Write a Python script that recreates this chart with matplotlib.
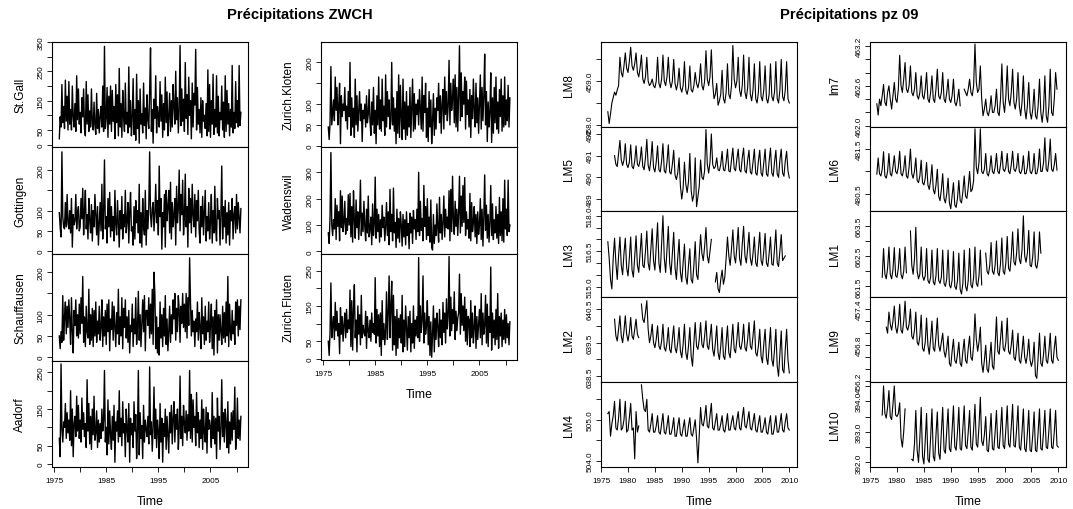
import numpy as np
import matplotlib
matplotlib.use("Agg")
import matplotlib.pyplot as plt

plt.rcParams['font.family'] = ['Liberation Sans', 'DejaVu Sans']

nan = np.nan

rain_start, rain_freq = 1976.0, 6

st_gall = [
    20, 95, 60, 205, 75, 130,
    55, 220, 80, 165, 50, 215,
    70, 120, 50, 200, 95, 60,
    140, 45, 235, 85, 190, 70,
    110, 40, 160, 95, 190, 55,
    30, 215, 70, 170, 45, 115,
    60, 190, 75, 50, 145, 65,
    35, 175, 55, 120, 40, 95,
    130, 60, 200, 45, 335, 55,
    90, 195, 25, 165, 70, 200,
    45, 185, 80, 130, 20, 205,
    75, 170, 30, 260, 60, 140,
    25, 185, 95, 45, 210, 70,
    110, 40, 265, 60, 150, 30,
    95, 225, 35, 120, 15, 240,
    55, 150, 5, 190, 70, 105,
    40, 210, 65, 125, 20, 170,
    85, 55, 180, 330, 45, 120,
    5, 155, 90, 235, 40, 130,
    100, 60, 215, 80, 170, 25,
    140, 50, 230, 75, 180, 30,
    95, 175, 45, 150, 60, 205,
    130, 70, 250, 85, 160, 40,
    120, 338, 65, 190, 80, 155,
    45, 280, 90, 170, 35, 230,
    100, 150, 20, 210, 60, 175,
    135, 325, 50, 195, 70, 120,
    40, 160, 25, 150, 80, 100,
    55, 140, 30, 255, 45, 205,
    25, 150, 70, 240, 35, 120,
    60, 235, 40, 165, 30, 110,
    85, 200, 50, 145, 25, 235,
    45, 185, 70, 140, 30, 120,
    60, 270, 40, 110, 55, 215,
    75, 150, 60, 270, 65, 110,
]

gottingen = [
    95, 60, 35, 245, 85, 60,
    55, 120, 60, 140, 70, 55,
    100, 45, 130, 10, 90, 65,
    75, 140, 55, 95, 110, 50,
    60, 130, 80, 155, 40, 100,
    150, 55, 90, 30, 130, 75,
    45, 115, 25, 100, 60, 140,
    90, 40, 110, 15, 70, 120,
    50, 165, 30, 95, 225, 55,
    85, 20, 130, 60, 145, 35,
    110, 50, 85, 25, 150, 65,
    40, 125, 70, 10, 100, 55,
    135, 30, 90, 60, 150, 45,
    75, 120, 20, 95, 145, 50,
    60, 15, 110, 30, 125, 70,
    100, 45, 165, 20, 95, 10,
    130, 60, 40, 150, 15, 100,
    55, 110, 245, 90, 60, 105,
    120, 50, 95, 165, 70, 125,
    40, 210, 85, 130, 5, 95,
    60, 140, 10, 150, 75, 110,
    150, 45, 170, 30, 120, 60,
    90, 130, 15, 160, 70, 105,
    200, 50, 140, 90, 175, 40,
    85, 190, 60, 110, 10, 155,
    70, 130, 45, 165, 90, 60,
    140, 35, 125, 75, 150, 50,
    20, 110, 60, 135, 40, 95,
    150, 25, 85, 50, 120, 30,
    70, 140, 20, 100, 45, 160,
    55, 25, 130, 80, 100, 15,
    90, 210, 30, 110, 60, 125,
    20, 95, 40, 120, 15, 100,
    75, 130, 30, 90, 110, 45,
    140, 55, 120, 80, 45, 105,
]

schauffausen = [
    50, 20, 60, 35, 145, 40,
    95, 130, 55, 120, 70, 135,
    90, 30, 140, 60, 10, 110,
    75, 135, 50, 100, 45, 125,
    55, 140, 80, 190, 35, 95,
    25, 120, 60, 45, 160, 30,
    100, 40, 115, 25, 110, 50,
    130, 35, 85, 55, 120, 40,
    70, 135, 25, 95, 50, 110,
    30, 125, 60, 135, 15, 90,
    65, 130, 40, 120, 70, 25,
    105, 55, 160, 30, 95, 50,
    140, 20, 115, 70, 135, 45,
    95, 35, 110, 10, 75, 60,
    125, 25, 90, 55, 140, 30,
    70, 155, 40, 100, 25, 80,
    135, 60, 145, 15, 110, 110,
    75, 140, 45, 125, 55, 160,
    30, 200, 150, 20, 95, 10,
    70, 5, 130, 45, 100, 25,
    115, 50, 145, 30, 90, 15,
    60, 120, 35, 100, 55, 135,
    90, 150, 40, 115, 60, 145,
    110, 35, 120, 80, 150, 70,
    125, 60, 150, 45, 140, 75,
    234, 130, 50, 110, 60, 85,
    25, 90, 60, 130, 40, 105,
    70, 20, 140, 55, 95, 30,
    120, 40, 85, 60, 130, 35,
    75, 125, 20, 95, 5, 110,
    55, 135, 10, 100, 40, 100,
    60, 30, 120, 45, 105, 35,
    130, 50, 190, 25, 125, 60,
    40, 110, 55, 85, 30, 130,
    75, 135, 50, 120, 65, 135,
]

aadorf = [
    70, 20, 273, 95, 60, 115,
    100, 165, 70, 140, 85, 120,
    65, 200, 50, 150, 20, 110,
    130, 75, 185, 90, 160, 70,
    120, 60, 180, 95, 140, 75,
    110, 45, 230, 90, 165, 55,
    130, 40, 150, 80, 185, 65,
    85, 145, 45, 120, 60, 110,
    70, 150, 90, 120, 255, 60,
    100, 25, 175, 55, 145, 80,
    40, 130, 65, 160, 5, 115,
    90, 145, 60, 200, 75, 125,
    50, 170, 85, 110, 20, 150,
    95, 60, 165, 5, 125, 80,
    110, 45, 170, 90, 135, 15,
    85, 255, 25, 140, 70, 105,
    15, 160, 60, 120, 95, 75,
    130, 55, 265, 80, 115, 35,
    100, 210, 70, 150, 45, 120,
    90, 15, 165, 60, 125, 5,
    110, 75, 150, 40, 130, 80,
    30, 140, 85, 160, 55, 125,
    170, 60, 135, 95, 150, 40,
    95, 240, 70, 130, 50, 160,
    110, 85, 145, 65, 135, 90,
    255, 70, 190, 60, 175, 100,
    130, 50, 195, 85, 140, 45,
    120, 70, 175, 40, 150, 85,
    60, 155, 30, 140, 95, 120,
    100, 45, 195, 70, 130, 55,
    125, 15, 180, 90, 130, 40,
    95, 230, 75, 140, 60, 150,
    110, 45, 170, 30, 115, 55,
    140, 65, 145, 95, 210, 40,
    75, 180, 70, 120, 65, 130,
]

zurich_kloten = [
    45, 15, 55, 190, 50, 80,
    110, 60, 165, 85, 140, 50,
    95, 150, 5, 120, 70, 100,
    85, 140, 60, 95, 40, 130,
    70, 200, 25, 115, 45, 90,
    20, 160, 50, 120, 35, 80,
    130, 60, 100, 10, 85, 65,
    100, 45, 120, 55, 75, 135,
    60, 25, 105, 50, 140, 30,
    85, 5, 120, 50, 165, 40,
    110, 35, 160, 60, 95, 25,
    170, 45, 130, 70, 110, 40,
    60, 200, 50, 115, 35, 90,
    5, 130, 30, 170, 20, 145,
    70, 15, 160, 40, 105, 15,
    130, 25, 95, 45, 140, 20,
    90, 160, 35, 125, 40, 100,
    75, 110, 50, 135, 90, 40,
    165, 35, 120, 80, 150, 20,
    90, 10, 130, 45, 110, 5,
    60, 125, 25, 90, 40, 115,
    85, 150, 55, 120, 30, 100,
    135, 40, 165, 75, 130, 60,
    95, 205, 50, 150, 85, 115,
    160, 55, 170, 45, 140, 35,
    120, 240, 60, 175, 70, 130,
    100, 165, 40, 155, 75, 110,
    45, 135, 20, 120, 65, 160,
    85, 45, 150, 55, 115, 30,
    100, 170, 40, 140, 60, 120,
    220, 50, 130, 10, 105, 45,
    80, 175, 8, 115, 30, 140,
    55, 165, 40, 105, 30, 135,
    70, 160, 35, 120, 45, 165,
    50, 110, 60, 145, 45, 115,
]

wadenswil = [
    70, 30, 130, 375, 100, 60,
    120, 85, 200, 45, 175, 95,
    150, 40, 230, 90, 210, 75,
    110, 190, 65, 125, 80, 215,
    100, 220, 55, 170, 35, 230,
    120, 50, 195, 90, 150, 45,
    130, 270, 60, 145, 75, 190,
    95, 40, 160, 70, 210, 55,
    85, 130, 25, 180, 60, 110,
    282, 50, 160, 75, 140, 35,
    120, 55, 175, 90, 130, 40,
    95, 185, 60, 150, 25, 235,
    75, 140, 40, 240, 70, 110,
    15, 160, 50, 125, 35, 150,
    100, 20, 140, 55, 120, 25,
    150, 60, 105, 10, 145, 70,
    130, 30, 155, 85, 120, 45,
    160, 75, 300, 60, 190, 80,
    125, 40, 250, 95, 170, 45,
    200, 60, 130, 35, 195, 15,
    5, 140, 30, 100, 60, 180,
    90, 35, 205, 70, 140, 45,
    110, 210, 55, 160, 90, 130,
    85, 230, 40, 235, 75, 285,
    120, 65, 190, 95, 160, 60,
    145, 285, 70, 210, 95, 250,
    110, 280, 60, 150, 85, 120,
    50, 220, 40, 185, 75, 110,
    170, 55, 140, 30, 150, 65,
    100, 200, 45, 160, 20, 130,
    290, 80, 175, 50, 140, 35,
    110, 250, 60, 180, 45, 120,
    70, 170, 50, 140, 30, 205,
    60, 150, 40, 200, 35, 270,
    85, 160, 60, 270, 75, 100,
]

zurich_fluten = [
    50, 10, 75, 215, 60, 95,
    120, 55, 160, 80, 135, 65,
    100, 15, 145, 70, 120, 50,
    95, 130, 60, 140, 75, 110,
    85, 195, 35, 165, 25, 140,
    210, 60, 110, 20, 150, 70,
    125, 40, 180, 60, 95, 75,
    65, 135, 30, 120, 80, 60,
    110, 50, 130, 75, 100, 70,
    230, 45, 140, 65, 125, 35,
    130, 10, 165, 55, 100, 40,
    80, 190, 55, 130, 235, 60,
    150, 220, 25, 180, 40, 120,
    10, 140, 30, 115, 60, 125,
    45, 180, 20, 110, 35, 150,
    90, 25, 120, 60, 135, 20,
    100, 45, 150, 30, 110, 65,
    120, 60, 287, 50, 150, 75,
    110, 235, 45, 130, 70, 95,
    165, 40, 120, 10, 105, 5,
    70, 150, 20, 115, 55, 130,
    90, 35, 140, 60, 110, 40,
    160, 75, 130, 45, 170, 85,
    120, 290, 65, 175, 80, 140,
    100, 190, 55, 135, 80, 115,
    130, 240, 70, 185, 95, 150,
    80, 175, 50, 140, 40, 120,
    110, 35, 165, 60, 130, 45,
    90, 150, 30, 120, 55, 100,
    140, 60, 185, 40, 130, 70,
    95, 180, 45, 155, 35, 120,
    75, 260, 25, 130, 60, 110,
    40, 140, 55, 185, 30, 120,
    65, 130, 35, 110, 55, 140,
    45, 125, 60, 100, 40, 105,
]

lake_start, lake_freq = 1976.25, 4

lm8 = [
    458.30, 458.03, 458.25, 458.50,
    458.62, 458.75, 458.68, 458.80,
    458.90, 459.55, 459.20, 459.10,
    459.35, 459.65, 459.30, 459.20,
    459.45, 459.78, 459.35, 459.25,
    459.40, 459.65, 459.20, 459.10,
    459.30, 459.60, 459.05, 458.95,
    459.10, 459.55, 459.00, 458.90,
    458.95, 459.05, 458.90, 458.85,
    459.00, 459.55, 458.95, 458.85,
    459.05, 459.60, 459.00, 458.90,
    459.10, 459.55, 459.00, 458.85,
    459.00, 459.50, 458.95, 458.80,
    458.95, 459.30, 458.85, 458.75,
    458.90, 459.45, 458.80, 458.70,
    458.85, 459.35, 458.80, 458.75,
    458.90, 459.20, 458.95, 458.85,
    459.00, 459.40, 458.90, 458.80,
    459.00, 459.70, 459.05, 458.90,
    459.10, 459.72, 458.95, 458.60,
    458.70, 458.95, 458.45, 458.55,
    458.70, 459.25, 458.60, 458.50,
    458.75, 459.40, 458.70, 458.60,
    458.90, 459.82, 459.05, 458.85,
    459.00, 459.55, 458.80, 458.65,
    458.90, 459.60, 458.75, 458.60,
    458.85, 459.55, 458.70, 458.55,
    458.80, 459.40, 458.60, 458.50,
    458.75, 459.45, 458.65, 458.55,
    458.80, 459.35, 458.60, 458.50,
    458.70, 459.40, 458.65, 458.55,
    458.75, 459.45, 458.60, 458.50,
    458.80, 459.50, 458.65, 458.55,
    458.80, 459.45, 458.60, 458.50,
]

lm5 = [
    nan, nan, nan, nan,
    nan, 491.00, 490.60, 490.50,
    491.10, 491.70, 490.80, 490.55,
    490.80, 491.55, 490.60, 490.45,
    490.70, 491.50, 490.50, 490.40,
    490.75, 491.45, 490.60, 490.50,
    490.80, 491.40, 490.50, 490.35,
    490.90, 491.75, 490.55, 490.30,
    490.80, 491.65, 490.45, 490.25,
    490.70, 491.45, 490.35, 490.25,
    490.75, 491.55, 490.30, 490.20,
    490.70, 491.50, 490.25, 490.15,
    490.60, 491.25, 490.10, 489.90,
    490.20, 490.90, 489.60, 489.00,
    489.50, 490.70, 489.70, 489.30,
    489.80, 491.10, 489.40, 488.90,
    489.20, 490.90, 488.65, 489.10,
    489.60, 490.80, 490.00, 489.90,
    490.30, 492.20, 490.60, 490.20,
    490.70, 492.00, 490.60, 490.40,
    490.50, 490.90, 490.35, 490.30,
    490.60, 491.20, 490.35, 490.30,
    490.70, 491.30, 490.30, 490.25,
    490.80, 491.35, 490.40, 490.30,
    490.85, 491.30, 490.35, 490.25,
    490.90, 491.35, 490.30, 490.20,
    490.80, 491.25, 490.25, 490.15,
    490.70, 491.30, 490.20, 490.10,
    490.75, 491.25, 490.20, 490.05,
    490.70, 491.30, 490.15, 490.05,
    490.75, 491.35, 490.20, 490.05,
    490.70, 491.25, 490.15, 490.00,
    490.80, 491.30, 490.20, 490.05,
    490.75, 491.20, 490.30, 489.97,
]

lm3 = [
    516.90, 516.20, 515.30, 514.90,
    516.20, 517.05, 516.00, 515.30,
    516.30, 517.10, 515.90, 515.50,
    516.40, 517.05, 515.80, 515.45,
    516.20, 517.10, 515.70, 515.40,
    516.30, 517.15, 515.90, 515.60,
    516.40, 517.25, 515.90, 515.80,
    516.50, 517.35, 516.00, 515.70,
    516.60, 517.45, 516.10, 515.70,
    516.70, 517.70, 516.00, 515.60,
    516.80, 518.00, 516.20, 515.60,
    516.60, 517.55, 516.00, 515.50,
    516.40, 517.30, 515.80, 515.30,
    516.20, 517.00, 515.60, 515.20,
    516.00, 516.80, 515.40, 515.10,
    515.90, 516.60, 515.30, 515.15,
    515.90, 516.90, 515.50, 515.30,
    516.30, 517.20, 516.40, 516.10,
    516.70, 517.50, 516.30, 516.00,
    516.50, 517.00, nan, nan,
    515.20, 515.60, 514.90, 514.75,
    515.30, 515.70, 515.10, 515.40,
    516.20, 517.10, 516.30, 515.90,
    516.60, 517.40, 516.30, 516.00,
    516.70, 517.50, 516.20, 515.90,
    516.80, 517.55, 516.30, 516.00,
    516.60, 517.30, 516.20, 515.90,
    516.40, 517.10, 516.00, 515.85,
    516.60, 517.30, 516.10, 515.90,
    516.50, 517.25, 516.00, 515.85,
    516.40, 517.10, 515.95, 515.90,
    516.60, 517.40, 516.00, 515.85,
    516.50, 517.20, 516.10, 516.20,
    516.30, nan, nan, nan,
]

lm2 = [
    nan, nan, nan, nan,
    nan, 640.20, 639.70, 639.55,
    639.90, 640.30, 639.70, 639.50,
    639.85, 640.30, 639.75, 639.55,
    639.80, 640.25, 639.70, 639.60,
    639.90, 640.20, 639.75, 639.65,
    nan, 640.65, 640.20, 640.10,
    640.40, 640.75, 639.90, 639.50,
    639.70, 640.05, 639.50, 639.35,
    639.60, 640.00, 639.40, 639.30,
    639.55, 640.05, 639.35, 639.25,
    639.50, 639.95, 639.30, 639.20,
    639.60, 640.00, 639.35, 639.20,
    639.50, 639.95, 639.25, 639.05,
    639.45, 640.05, 639.20, 639.00,
    639.40, 639.95, 639.10, 638.80,
    639.50, 640.10, 639.40, 639.30,
    639.60, 640.10, 639.45, 639.35,
    639.70, 640.15, 639.40, 639.30,
    639.65, 640.05, 639.30, 639.10,
    639.50, 640.00, 639.20, 639.00,
    639.40, 639.95, 639.10, 639.00,
    639.50, 640.00, 639.20, 639.05,
    639.55, 640.05, 639.30, 639.20,
    639.60, 640.10, 639.40, 639.30,
    639.55, 640.05, 639.35, 639.25,
    639.60, 640.10, 639.40, 639.30,
    639.70, 640.15, 639.20, 639.10,
    639.40, 639.90, 639.10, 638.90,
    639.45, 639.90, 639.05, 638.85,
    639.40, 639.95, 639.00, 638.80,
    639.30, 639.90, 638.80, 638.50,
    639.20, 639.85, 638.70, 638.60,
    639.30, 639.90, 639.00, 638.60,
]

lm4 = [
    505.15, 505.20, 504.60, 504.90,
    505.10, 505.45, 504.80, 504.75,
    505.05, 505.50, 504.75, 504.80,
    505.00, 505.45, 504.70, 504.75,
    505.05, 505.40, 504.75, 504.80,
    504.05, 505.20, 504.70, 504.85,
    nan, 505.85, 505.50, 505.25,
    505.20, 505.50, 504.75, 504.70,
    504.90, 505.15, 504.70, 504.70,
    504.85, 505.10, 504.70, 504.65,
    504.90, 505.15, 504.70, 504.65,
    504.85, 505.10, 504.65, 504.65,
    504.80, 505.05, 504.60, 504.60,
    504.85, 505.05, 504.65, 504.60,
    504.80, 505.00, 504.60, 504.60,
    504.85, 505.05, 504.65, 504.60,
    504.80, 505.00, 504.55, 503.95,
    504.60, 505.30, 504.90, 504.85,
    505.05, 505.35, 504.85, 504.80,
    505.10, 505.40, 504.80, 504.75,
    504.95, 505.15, 504.75, 504.75,
    504.90, 505.10, 504.75, 504.70,
    504.90, 505.15, 504.75, 504.75,
    504.95, 505.10, 504.80, 504.75,
    505.00, 505.20, 504.80, 504.75,
    505.05, 505.30, 504.85, 504.80,
    505.00, 505.20, 504.80, 504.75,
    504.95, 505.15, 504.75, 504.70,
    504.90, 505.10, 504.70, 504.70,
    504.85, 505.05, 504.70, 504.65,
    504.90, 505.10, 504.65, 504.65,
    504.85, 505.10, 504.70, 504.70,
    504.90, 505.15, 504.75, 504.70,
    504.95, 505.15, 504.80, 504.75,
]

lm7 = [
    462.33, 462.16, 462.40, 462.30,
    462.45, 462.62, 462.35, 462.30,
    462.50, 462.60, 462.40, 462.25,
    462.45, 462.65, 462.40, 462.35,
    462.55, 463.06, 462.60, 462.50,
    462.70, 462.95, 462.55, 462.50,
    462.60, 462.90, 462.50, 462.45,
    462.55, 462.80, 462.45, 462.40,
    462.50, 462.75, 462.45, 462.40,
    462.55, 462.80, 462.40, 462.35,
    462.50, 462.75, 462.40, 462.35,
    462.55, 462.85, 462.45, 462.40,
    462.50, 462.80, 462.40, 462.35,
    462.50, 462.70, 462.40, 462.35,
    462.45, 462.70, 462.35, 462.30,
    462.40, 462.55, 462.30, nan,
    nan, 462.55, 462.50, 462.45,
    462.55, 462.70, 462.50, 462.45,
    462.60, 463.23, 462.65, 462.50,
    462.55, 462.90, 462.40, 462.15,
    462.25, 462.40, 462.20, 462.15,
    462.25, 462.45, 462.20, 462.20,
    462.30, 462.55, 462.20, 462.15,
    462.40, 462.93, 462.35, 462.20,
    462.45, 462.90, 462.40, 462.30,
    462.50, 462.85, 462.35, 462.25,
    462.40, 462.80, 462.30, 462.15,
    462.35, 462.75, 462.25, 462.10,
    462.30, 462.65, 462.20, 462.10,
    462.25, 462.55, 462.15, 462.10,
    462.30, 462.70, 462.20, 462.05,
    462.25, 462.75, 462.15, 462.05,
    462.30, 462.85, 462.20, 462.15,
    462.40, 462.80, 462.55, nan,
]

lm6 = [
    480.94, 481.30, 480.95, 480.90,
    481.05, 481.44, 480.90, 480.85,
    481.00, 481.40, 480.95, 480.90,
    481.10, 481.35, 481.00, 480.95,
    481.10, 481.45, 480.95, 480.90,
    481.05, 481.35, 480.90, 480.85,
    481.10, 481.50, 480.95, 480.85,
    481.00, 481.30, 480.80, 480.75,
    480.90, 481.25, 480.75, 480.70,
    480.85, 481.20, 480.70, 480.60,
    480.80, 481.15, 480.60, 480.50,
    480.70, 481.05, 480.45, 480.35,
    480.60, 480.95, 480.40, 480.30,
    480.50, 480.85, 480.30, 480.17,
    480.45, 480.75, 480.25, 480.20,
    480.40, 480.80, 480.35, 480.30,
    480.55, 480.90, 480.45, 480.40,
    480.65, 481.00, 480.55, 480.60,
    480.80, 481.95, 481.10, 480.95,
    481.20, 481.95, 481.00, 480.95,
    481.05, 481.40, 480.95, 480.90,
    481.05, 481.35, 481.00, 480.95,
    481.10, 481.40, 481.00, 480.95,
    481.15, 481.45, 481.05, 481.00,
    481.10, 481.40, 481.00, 480.95,
    481.15, 481.45, 481.05, 481.00,
    481.10, 481.40, 481.00, 480.95,
    481.05, 481.35, 480.95, 480.95,
    481.10, 481.45, 481.00, 480.95,
    481.05, 481.40, 480.95, 480.95,
    481.10, 481.50, 481.00, 481.00,
    481.20, 481.75, 481.05, 481.00,
    481.25, 481.72, 481.05, 481.00,
    481.15, 481.40, 481.03, nan,
]

lm1 = [
    nan, nan, nan, nan,
    661.80, 662.75, 661.90, 661.75,
    662.10, 662.80, 661.90, 661.75,
    662.05, 662.78, 661.85, 661.80,
    662.10, 662.75, 661.90, 661.75,
    662.00, 662.80, 661.95, nan,
    nan, 663.33, 662.20, 661.90,
    662.40, 663.45, 662.00, 661.75,
    661.90, 662.80, 661.85, 661.70,
    661.85, 662.75, 661.70, 661.60,
    661.80, 662.70, 661.65, 661.55,
    661.85, 662.75, 661.70, 661.60,
    661.80, 662.70, 661.60, 661.50,
    661.75, 662.70, 661.55, 661.45,
    661.70, 662.65, 661.50, 661.40,
    661.70, 662.60, 661.40, 661.25,
    661.60, 662.70, 661.50, 661.35,
    661.70, 662.75, 661.55, 661.45,
    661.80, 662.80, 661.60, 661.50,
    661.85, 662.70, 661.55, nan,
    nan, 662.60, 662.00, 661.90,
    662.20, 662.95, 662.00, 661.90,
    662.20, 663.00, 661.95, 661.85,
    662.25, 663.10, 662.00, 661.90,
    662.30, 663.15, 662.10, 662.00,
    662.50, 663.30, 662.30, 662.20,
    662.60, 663.40, 662.40, 662.25,
    662.70, 663.83, 662.50, 662.30,
    662.60, 663.35, 662.20, 662.15,
    662.50, 663.30, 662.20, 662.10,
    662.40, 663.30, 662.60, nan,
    nan, nan, nan, nan,
    nan, nan, nan, nan,
    nan, nan, nan, nan,
]

lm9 = [
    nan, nan, nan, nan,
    nan, nan, nan, 457.10,
    457.00, 457.35, 457.15, 457.05,
    457.20, 457.45, 457.10, 457.00,
    457.15, 457.48, 457.05, 457.00,
    457.20, 457.53, 457.10, 457.05,
    457.15, 457.40, 456.95, 456.90,
    457.05, 457.35, 456.85, 456.80,
    456.95, 457.30, 456.75, 456.70,
    456.85, 457.25, 456.80, 456.65,
    456.90, 457.20, 456.75, 456.70,
    456.95, 457.25, 456.80, 456.70,
    456.85, 457.00, 456.70, 456.60,
    456.75, 456.95, 456.50, 456.45,
    456.70, 456.90, 456.55, 456.50,
    456.65, 456.85, 456.50, 456.45,
    456.70, 456.90, 456.55, 456.50,
    456.75, 456.95, 456.60, 456.55,
    456.80, 457.32, 456.90, 456.70,
    456.85, 457.10, 456.50, 456.35,
    456.55, 456.80, 456.40, 456.35,
    456.60, 456.85, 456.45, 456.40,
    456.80, 457.27, 456.70, 456.65,
    456.90, 457.20, 456.75, 456.70,
    456.85, 457.25, 456.70, 456.65,
    456.80, 457.05, 456.60, 456.55,
    456.75, 457.00, 456.55, 456.50,
    456.70, 456.95, 456.60, 456.50,
    456.65, 456.90, 456.55, 456.45,
    456.55, 456.85, 456.30, 456.25,
    456.60, 457.00, 456.50, 456.45,
    456.65, 456.95, 456.55, 456.50,
    456.70, 457.00, 456.55, 456.50,
    456.75, 456.95, 456.60, 456.55,
]

lm10 = [
    nan, nan, nan, nan,
    393.55, 394.50, 393.60, 393.45,
    393.80, 394.35, 393.50, 393.40,
    393.90, 394.50, 393.55, 393.50,
    393.60, 393.95, 392.80, 392.50,
    393.00, 393.75, nan, nan,
    nan, nan, 392.10, 392.05,
    392.60, 393.70, 392.40, 392.00,
    392.80, 393.80, 392.20, 391.95,
    392.70, 393.60, 392.10, 392.00,
    392.80, 393.75, 392.20, 392.05,
    392.90, 393.65, 392.30, 392.10,
    393.00, 393.80, 392.40, 392.30,
    393.00, 393.75, 392.45, 392.35,
    393.05, 393.85, 392.50, 392.40,
    393.00, 393.80, 392.45, 392.40,
    393.10, 393.85, 392.55, 392.45,
    393.00, 393.70, 392.50, 392.40,
    393.10, 393.90, 392.60, 392.50,
    393.20, 394.13, 392.70, 392.55,
    392.90, 393.50, 392.40, 392.35,
    392.95, 393.60, 392.45, 392.40,
    393.00, 393.70, 392.50, 392.45,
    393.05, 393.80, 392.55, 392.45,
    393.10, 393.85, 392.60, 392.50,
    393.15, 393.90, 392.55, 392.50,
    393.10, 393.85, 392.50, 392.40,
    393.00, 393.75, 392.45, 392.35,
    392.95, 393.70, 392.40, 392.35,
    392.90, 393.65, 392.40, 392.35,
    393.00, 393.75, 392.45, 392.40,
    393.00, 393.70, 392.50, 392.45,
    393.05, 393.75, 392.50, 392.45,
    393.00, 393.70, 392.55, 392.50,
]

rain_names = ['St.Gall', 'Gottingen', 'Schauffausen', 'Aadorf',
              'Zurich.Kloten', 'Wadenswil', 'Zurich.Fluten']
rain_series = [st_gall, gottingen, schauffausen, aadorf,
               zurich_kloten, wadenswil, zurich_fluten]

lake_names = ['LM8', 'LM5', 'LM3', 'LM2', 'LM4',
              'lm7', 'LM6', 'LM1', 'LM9', 'LM10']
lake_series = [lm8, lm5, lm3, lm2, lm4, lm7, lm6, lm1, lm9, lm10]

# y axis: limits, tick positions, tick texts ('' = tick without text)
rain_axes = [
    ((-8, 350), [0, 50, 100, 150, 200, 250, 300, 350], ['0', '50', '', '150', '', '250', '', '350']),
    ((-7, 257), [0, 50, 100, 150, 200], ['0', '50', '100', '', '200']),
    ((-9, 243), [0, 50, 100, 150, 200], ['0', '50', '100', '', '200']),
    ((-8, 281), [0, 50, 100, 150, 200, 250], ['0', '50', '', '150', '', '250']),
    ((-3, 249), [0, 50, 100, 150, 200], ['0', '50', '100', '', '200']),
    ((-10, 396), [0, 100, 200, 300], ['0', '100', '200', '300']),
    ((-3, 297), [0, 50, 100, 150, 200, 250], ['0', '50', '', '150', '', '250']),
]
lake_axes = [
    ((457.95, 459.90), [458.0, 458.5, 459.0, 459.5], ['458.0', '', '459.0', '']),
    ((488.45, 492.32), [489, 490, 491, 492], ['489', '490', '491', '492']),
    ((514.56, 518.20), [515.0, 515.5, 516.0, 516.5, 517.0, 517.5, 518.0],
     ['515.0', '', '', '516.5', '', '', '518.0']),
    ((638.33, 640.86), [638.5, 639.0, 639.5, 640.0, 640.5], ['638.5', '', '639.5', '', '640.5']),
    ((503.85, 505.92), [504.0, 504.5, 505.0, 505.5], ['504.0', '', '505.0', '']),
    ((461.98, 463.26), [462.0, 462.2, 462.4, 462.6, 462.8, 463.0, 463.2],
     ['462.0', '', '', '462.6', '', '', '463.2']),
    ((480.12, 481.99), [480.5, 481.0, 481.5], ['480.5', '', '481.5']),
    ((661.15, 663.99), [661.5, 662.0, 662.5, 663.0, 663.5], ['661.5', '', '662.5', '', '663.5']),
    ((456.19, 457.60), [456.2, 456.4, 456.6, 456.8, 457.0, 457.2, 457.4],
     ['456.2', '', '', '456.8', '', '', '457.4']),
    ((391.85, 394.63), [392.0, 392.5, 393.0, 393.5, 394.0, 394.5],
     ['392.0', '', '393.0', '', '394.0', '']),
]

year_ticks = [1975, 1980, 1985, 1990, 1995, 2000, 2005, 2010]
rain_year_labels = ['1975', '', '1985', '', '1995', '', '2005', '']
lake_year_labels = [str(y) for y in year_ticks]

W, H = 1073, 510
fig = plt.figure(figsize=(W / 100, H / 100), dpi=100)


def panel(x0, x1, y0, y1, t, vals, name, axis_cfg, xlim, xlabels, lab_off=32, lw=0.75):
    ylim, yticks, ylabels = axis_cfg
    ax = fig.add_axes([x0 / W, 1 - y1 / H, (x1 - x0) / W, (y1 - y0) / H])
    ax.plot(t, vals, color='black', lw=lw)
    ax.set_xlim(xlim)
    ax.set_ylim(ylim)
    ax.set_yticks(yticks)
    ax.set_yticklabels(ylabels, rotation=90, va='center', fontsize=5.9)
    ax.tick_params(axis='y', direction='out', length=3.3, width=0.6, pad=2)
    for s in ax.spines.values():
        s.set_linewidth(0.8)
    if xlabels is None:
        ax.tick_params(axis='x', bottom=False, labelbottom=False)
    else:
        ax.set_xticks(year_ticks)
        ax.set_xticklabels(xlabels, fontsize=5.9)
        ax.tick_params(axis='x', direction='out', length=3.3, width=0.6, pad=4)
        fig.text((x0 + x1) / 2 / W, 1 - (y1 + 34) / H, 'Time',
                 ha='center', va='center', fontsize=8.8)
    fig.text((x0 - lab_off) / W, 1 - (y0 + y1) / 2 / H, name, rotation=90,
             ha='center', va='center', fontsize=8.5)
    return ax


# left block: rainfall, 4 + 3 panels
rain_t = rain_start + np.arange(len(st_gall)) / rain_freq
rain_cols = [(52, 248, [43, 148, 255, 362, 468]), (321, 517, [43, 148, 255, 361])]
k = 0
for x0, x1, edges in rain_cols:
    n = len(edges) - 1
    for i in range(n):
        panel(x0, x1, edges[i], edges[i + 1], rain_t, rain_series[k], rain_names[k],
              rain_axes[k], (1974.6, 2012.2),
              rain_year_labels if i == n - 1 else None, lw=1.0)
        k += 1

# right block: lake levels, 5 + 5 panels
lake_t = lake_start + np.arange(len(lm8)) / lake_freq
lake_cols = [(601, 797, 32), (870, 1066, 35)]
lake_rows = [43, 128, 212, 298, 383, 468]
k = 0
for x0, x1, off in lake_cols:
    for i in range(5):
        panel(x0, x1, lake_rows[i], lake_rows[i + 1], lake_t, lake_series[k], lake_names[k],
              lake_axes[k], (1974.98, 2011.43),
              lake_year_labels if i == 4 else None, lab_off=off, lw=0.8)
        k += 1

fig.text(300 / W, 1 - 15 / H, 'Précipitations ZWCH', ha='center', va='center',
         fontsize=10.6, fontweight='bold')
fig.text(849 / W, 1 - 15 / H, 'Précipitations pz 09', ha='center', va='center',
         fontsize=10.6, fontweight='bold')

fig.savefig('out.png', dpi=100)
